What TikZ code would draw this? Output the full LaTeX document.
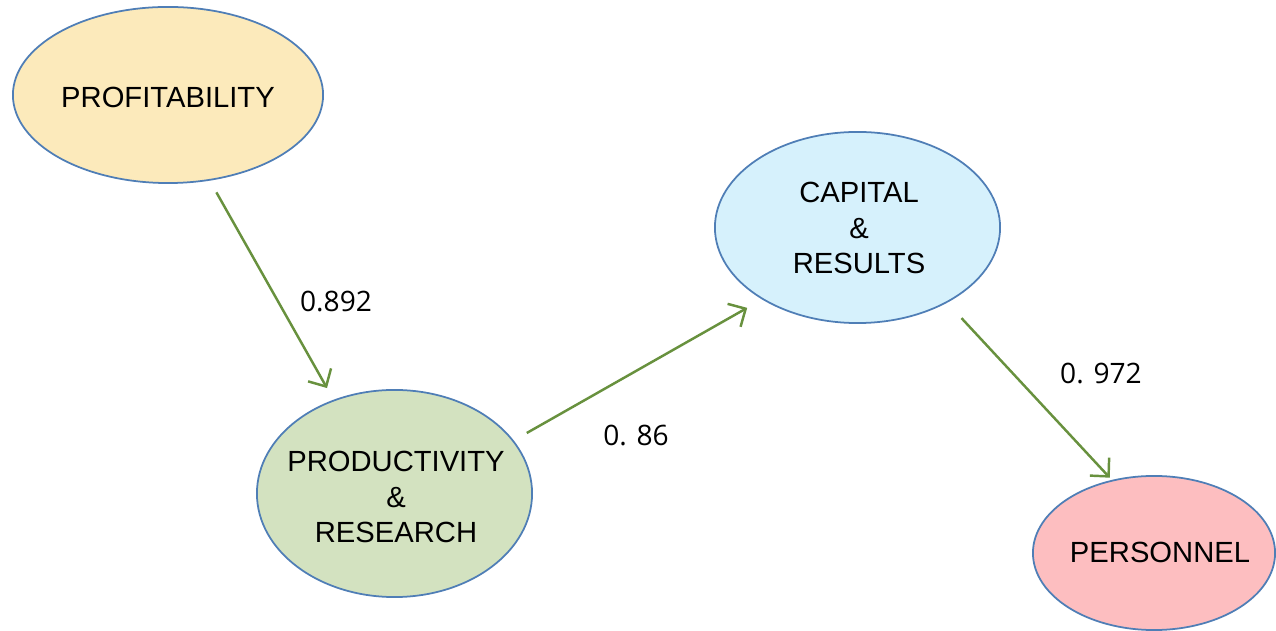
\documentclass[tikz,border=0pt]{standalone}
\usepackage{fontspec}
\setmainfont{Liberation Sans}
\newfontfamily\labelfont{Open Sans}
\usetikzlibrary{shapes.geometric,arrows.meta}
\definecolor{edgeblue}{RGB}{79,126,182}
\definecolor{arrowgreen}{RGB}{104,145,62}
\definecolor{fillyellow}{RGB}{252,234,187}
\definecolor{fillgreen}{RGB}{211,226,192}
\definecolor{fillblue}{RGB}{214,241,252}
\definecolor{fillpink}{RGB}{253,190,192}

\begin{document}
\begin{tikzpicture}[x=0.01cm,y=-0.01cm,
	blob/.style={ellipse,draw=edgeblue,line width=0.5pt,inner sep=0pt},
	blobtext/.style={align=center,font=\fontsize{8.3}{10}\selectfont},
	weight/.style={font=\labelfont\fontsize{8}{9}\selectfont},
	link/.style={draw=arrowgreen,line width=0.7pt,-{Straight Barb[length=3.8pt,width=7.5pt]}}]
			%%%%% START %%%%%
			\useasboundingbox (0,0) rectangle (1276,631);
			
			\node[blob,fill=fillyellow,minimum width=3.10cm,minimum height=1.76cm] (prof) at (168,95) {};
			\node[blob,fill=fillgreen,minimum width=2.75cm,minimum height=2.07cm] (prod) at (394.5,493.5) {};
			\node[blob,fill=fillblue,minimum width=2.85cm,minimum height=1.91cm] (cap) at (857.5,227.5) {};
			\node[blob,fill=fillpink,minimum width=2.42cm,minimum height=1.54cm] (pers) at (1154,553) {};
			
			\node[blobtext] (proft) at (168,97) {PROFITABILITY};
			\node[blobtext] (prodt) at (396,497) {PRODUCTIVITY\\\&\\RESEARCH};
			\node[blobtext] (capt) at (859,228) {CAPITAL\\\&\\RESULTS};
			\node[blobtext] (perst) at (1160,552) {PERSONNEL};
			
			\draw[link,shorten <=0.134cm,shorten >=0.134cm] (prof.296) -- (prod.123);
			\draw[link,shorten <=0.15cm,shorten >=0.17cm] (prod.24) -- (cap.217.5);
			\draw[link,shorten <=0.21cm,shorten >=0.03cm] (cap.320) -- (pers.120.4);
			
			\node[weight] (w1) at (336,302) {0.892};
			\node[weight] (w2) at (636,436) {0. 86};
			\node[weight] (w3) at (1101,374) {0. 972};
			
			%%%%% END %%%%%
\end{tikzpicture}
\end{document}
